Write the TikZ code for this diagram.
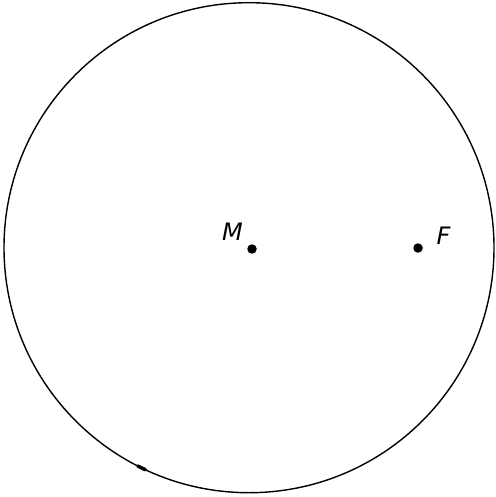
\documentclass[tikz,border=0pt]{standalone}
\usepackage{fontspec}
\setmainfont{DejaVu Sans}
\usetikzlibrary{positioning}

\begin{document}
\begin{tikzpicture}[x=1pt,y=-1pt,
  pt/.style={circle, fill=black, inner sep=0pt, minimum size=9.5pt},
  lbl/.style={font=\fontsize{24}{29}\selectfont\itshape, inner sep=0pt}]
  \useasboundingbox (0,0) rectangle (495,497);
  \coordinate (c) at (249,247.7);
  \draw[line width=1.4pt] (c) circle[radius=245];
  \draw[line width=3.5pt, line cap=round] ([shift={(115:245)}]c) arc[start angle=115, end angle=117, radius=245];
  \node[pt] (m) at (252,249) {};
  \node[pt] (f) at (418,248) {};
  \node[lbl] (ml) at (232.5,231.5) {M};
  \node[lbl] (fl) at (443.5,236) {F};
\end{tikzpicture}
\end{document}
